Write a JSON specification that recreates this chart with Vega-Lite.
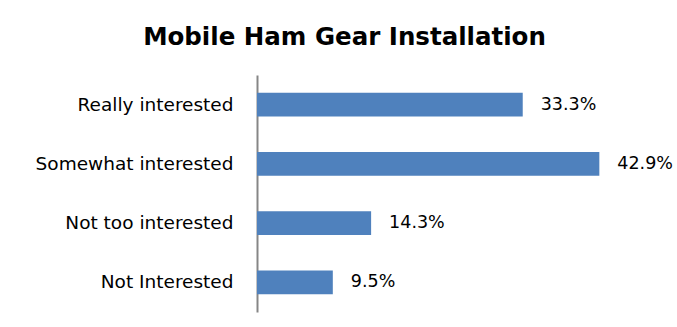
{
  "$schema": "https://vega.github.io/schema/vega-lite/v6.json",
  "width": 399,
  "height": 237,
  "autosize": "none",
  "padding": {"left": 257, "top": 75, "right": 21, "bottom": 15},
  "background": "#ffffff",
  "title": {
    "text": "Mobile Ham Gear Installation",
    "font": "DejaVu Sans",
    "fontSize": 24.5,
    "fontWeight": "bold",
    "color": "#000000",
    "anchor": "middle",
    "dx": -112,
    "offset": 25
  },
  "config": {"view": {"stroke": null}},
  "data": {
    "values": [
      {"category": "Really interested", "share": 0.333},
      {"category": "Somewhat interested", "share": 0.429},
      {"category": "Not too interested", "share": 0.143},
      {"category": "Not Interested", "share": 0.095}
    ]
  },
  "encoding": {
    "y": {
      "field": "category",
      "type": "nominal",
      "sort": null,
      "scale": {"paddingInner": 0.6, "paddingOuter": 0.3},
      "axis": {
        "title": null,
        "ticks": false,
        "domainColor": "#868686",
        "domainWidth": 2,
        "labelPadding": 24,
        "labelFont": "DejaVu Sans",
        "labelFontSize": 18.5,
        "labelColor": "#000000",
        "labelLimit": 400,
        "grid": false
      }
    },
    "x": {
      "field": "share",
      "type": "quantitative",
      "scale": {"domain": [0, 0.5], "nice": false},
      "axis": null
    }
  },
  "layer": [
    {"mark": {"type": "bar", "color": "#4F81BD"}},
    {
      "mark": {"type": "text", "align": "left", "baseline": "middle", "dx": 18, "font": "DejaVu Sans", "fontSize": 17.5, "color": "#000000"},
      "encoding": {"text": {"field": "share", "type": "quantitative", "format": ".1%"}}
    }
  ]
}
